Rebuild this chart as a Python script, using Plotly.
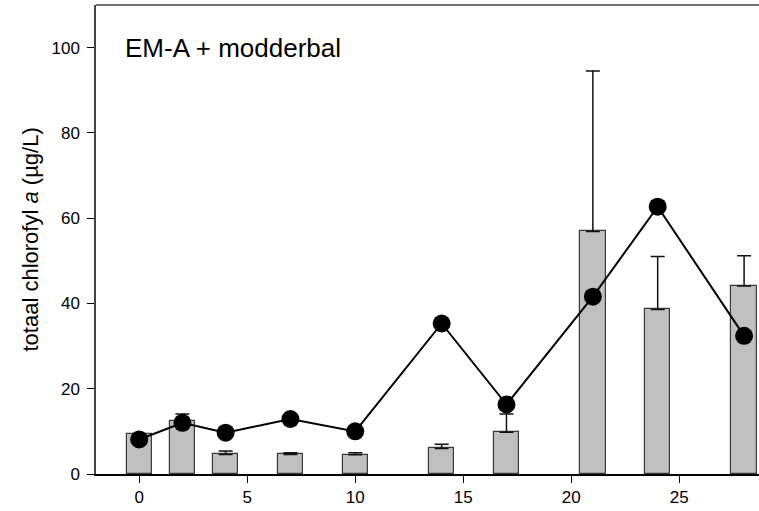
import plotly.graph_objects as go

days = [0, 2, 4, 7, 10, 14, 17, 21, 24, 28]
bar_mean = [9.4, 12.5, 4.6, 4.6, 4.5, 6.0, 9.8, 56.9, 38.6, 44.1]
bar_err = [0.0, 1.6, 0.8, 0.4, 0.5, 1.0, 4.3, 37.6, 12.4, 7.1]
line_vals = [8.1, 12.0, 9.7, 12.9, 10.0, 35.3, 16.3, 41.6, 62.7, 32.4]
x_ticks = [0, 5, 10, 15, 20, 25]
y_ticks = [0, 20, 40, 60, 80, 100]
panel_title = "EM-A + modderbal"
y_title = "totaal chlorofyl <i>a</i> (µg/L)"

FONT = "Liberation Sans, Arial, sans-serif"

fig = go.Figure()
fig.add_trace(go.Bar(
    x=days, y=bar_mean, width=1.17,
    marker=dict(color="#c0c0c0", line=dict(color="#3a3a3a", width=1.2)),
    error_y=dict(type="data", symmetric=False, array=bar_err,
                 arrayminus=[0] * len(bar_err), color="#111111",
                 thickness=1.5, width=7),
    showlegend=False,
))
fig.add_trace(go.Scatter(
    x=days, y=line_vals, mode="lines+markers",
    line=dict(color="black", width=2),
    marker=dict(color="black", size=18),
    showlegend=False,
))

fig.update_layout(
    width=759, height=511,
    margin=dict(l=96, r=0, t=5, b=37),
    plot_bgcolor="white", paper_bgcolor="white",
    font=dict(family=FONT, color="black"),
    bargap=0,
    xaxis=dict(range=[-2, 28.69], tickvals=x_ticks, ticks="outside", ticklen=7,
               tickwidth=1, tickcolor="black", showline=True, linecolor="black",
               linewidth=1.5, showgrid=False, zeroline=False,
               tickfont=dict(size=17, family=FONT)),
    yaxis=dict(range=[0, 110], tickvals=y_ticks, ticks="outside", ticklen=7,
               tickwidth=1, tickcolor="black", showline=True, linecolor="#444444",
               linewidth=1.5, showgrid=False, zeroline=False,
               tickfont=dict(size=17, family=FONT), ticklabelstandoff=4),
    shapes=[dict(type="line", xref="paper", yref="paper", x0=0, x1=1, y0=1, y1=1,
                 line=dict(color="#707070", width=2))],
    annotations=[
        dict(text=panel_title, x=-0.76, y=100, xref="x", yref="y",
             xanchor="left", yanchor="middle", showarrow=False,
             font=dict(size=26, family=FONT)),
        dict(text=y_title, x=-0.0995, y=0.5, xref="paper", yref="paper",
             xanchor="center", yanchor="middle", textangle=-90, showarrow=False,
             font=dict(size=22, family=FONT)),
    ],
)

fig.write_html("out.html")
